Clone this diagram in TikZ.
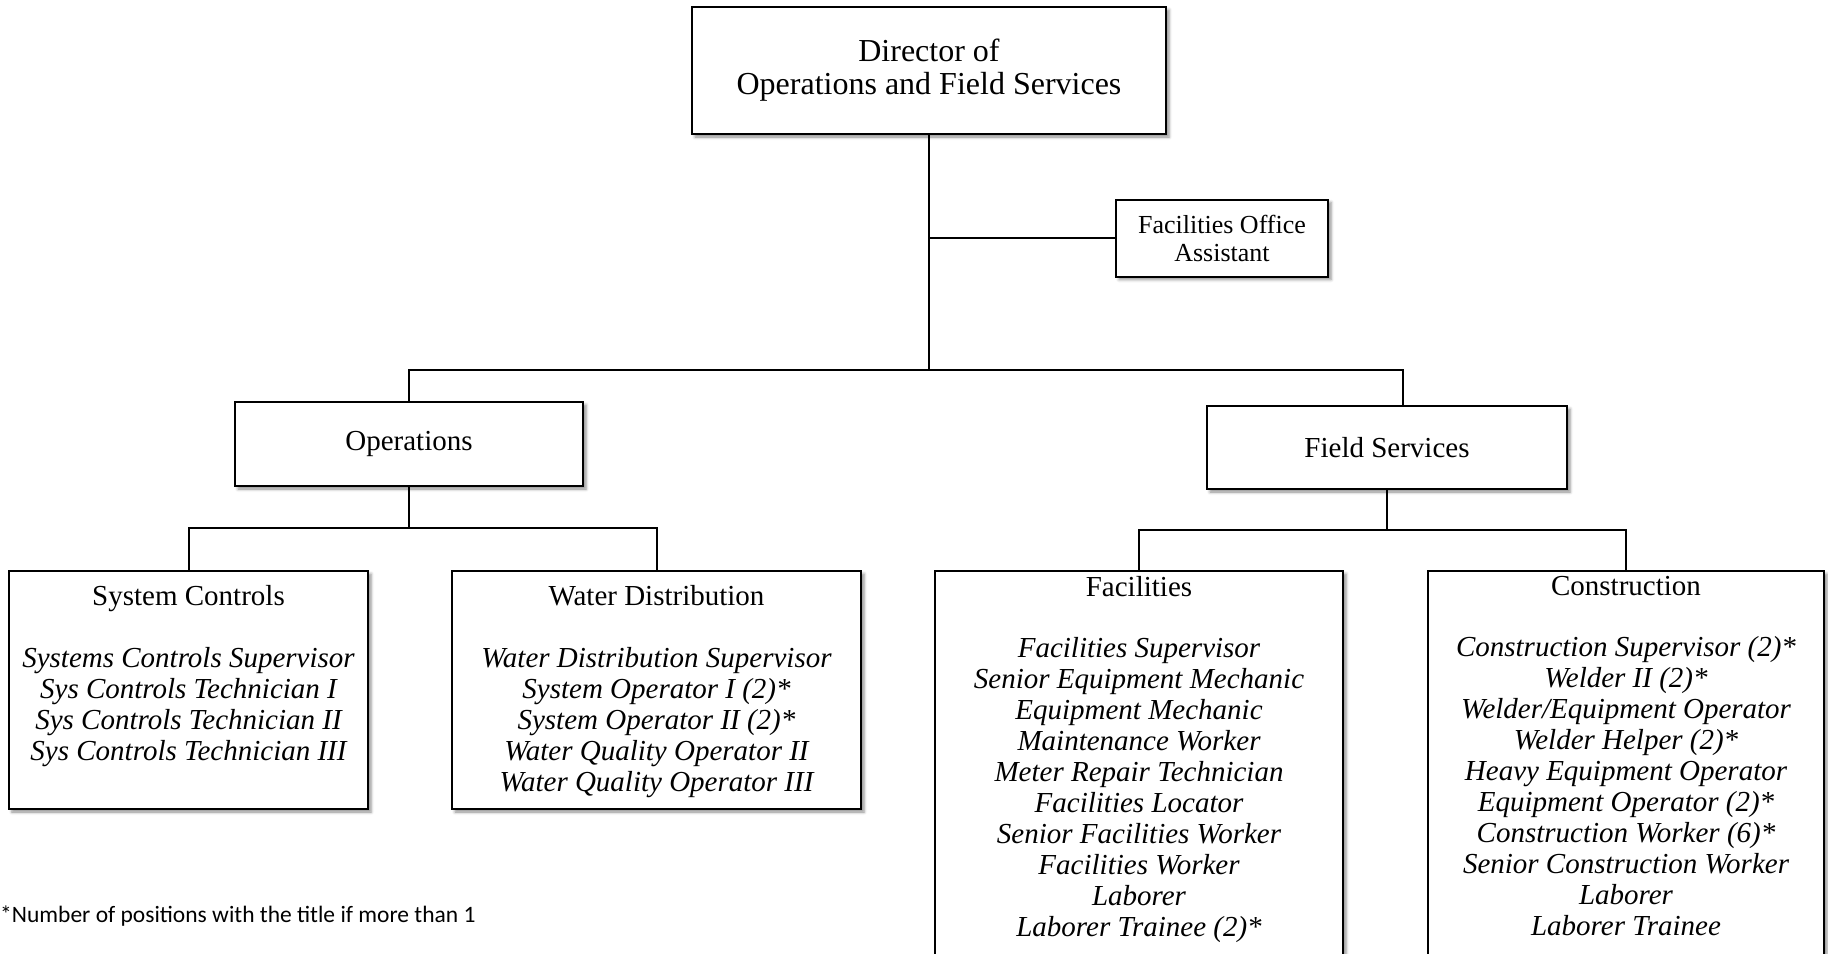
\documentclass[tikz,border=0pt]{standalone}
\usepackage{fontspec}
\setmainfont{Liberation Serif}
\newfontfamily\notefont{Carlito}
\usetikzlibrary{positioning,shadows.blur}

\tikzset{
  box/.style={rectangle, draw, line width=2pt, fill=white,
    blur shadow={shadow xshift=3pt, shadow yshift=-3pt, shadow blur radius=3pt, shadow opacity=45}},
  unithead/.style={inner sep=0pt, font=\fontsize{29}{31}\selectfont},
  stafflist/.style={inner sep=0pt, align=center, font=\fontsize{29}{31}\selectfont\itshape},
  link/.style={line width=2pt},
}

\begin{document}
\begin{tikzpicture}[x=1pt, y=-1pt]
\useasboundingbox (0,0) rectangle (1828,953);

% top of the chart
\node[box, minimum width=474pt, minimum height=127pt, align=center,
      font=\fontsize{32}{33}\selectfont] (dir) at (929,70.5)
      {Director of\\Operations and Field Services};
\node[box, minimum width=212pt, minimum height=77pt, align=center,
      font=\fontsize{26}{28}\selectfont] (office) at (1222,238)
      {Facilities Office\\Assistant};

% divisions
\node[box, minimum width=348pt, minimum height=84pt,
      font=\fontsize{29}{31}\selectfont] (ops) at (409,444) {Operations};
\node[box, minimum width=360pt, minimum height=83pt,
      font=\fontsize{29}{31}\selectfont] (fs) at (1387,447.5) {Field Services};

% units
\node[box, minimum width=359pt, minimum height=238pt] (sc) at (188.5,690) {};
\node[box, minimum width=409pt, minimum height=238pt] (wd) at (656.5,690) {};
\node[box, minimum width=408pt, minimum height=410pt] (fac) at (1139,776) {};
\node[box, minimum width=396pt, minimum height=410pt] (con) at (1626,776) {};

\node[unithead, below=15pt of sc.north] (sc-h) {System Controls};
\node[stafflist, below=42pt of sc-h.base] (sc-l)
  {Systems Controls Supervisor\\Sys Controls Technician I\\
   Sys Controls Technician II\\Sys Controls Technician III};

\node[unithead, below=15pt of wd.north] (wd-h) {Water Distribution};
\node[stafflist, below=42pt of wd-h.base] (wd-l)
  {Water Distribution Supervisor\\System Operator I (2)*\\
   System Operator II (2)*\\Water Quality Operator II\\
   Water Quality Operator III};

\node[unithead, below=6pt of fac.north] (fac-h) {Facilities};
\node[stafflist, below=41pt of fac-h.base] (fac-l)
  {Facilities Supervisor\\Senior Equipment Mechanic\\Equipment Mechanic\\
   Maintenance Worker\\Meter Repair Technician\\Facilities Locator\\
   Senior Facilities Worker\\Facilities Worker\\Laborer\\
   Laborer Trainee (2)*};

\node[unithead, below=6pt of con.north] (con-h) {Construction};
\node[stafflist, below=41pt of con-h.base] (con-l)
  {Construction Supervisor (2)*\\Welder II (2)*\\Welder/Equipment Operator\\
   Welder Helper (2)*\\Heavy Equipment Operator\\Equipment Operator (2)*\\
   Construction Worker (6)*\\Senior Construction Worker\\Laborer\\
   Laborer Trainee};

% connectors
\coordinate (hub) at (929,370);
\coordinate (fsin) at (1403,370);
\coordinate (opsbus) at (409,528);
\coordinate (fsbus) at (1387,530);
\draw[link] (dir.south) -- (hub);
\draw[link] (office.west) -- (office.west -| hub);
\draw[link] (ops.north) |- (fsin) -- (fsin |- fs.north);
\draw[link] (ops.south) -- (opsbus);
\draw[link] (sc.north) |- (opsbus) -| (wd.north);
\draw[link] (fs.south) -- (fsbus);
\draw[link] (fac.north) |- (fsbus) -| (con.north);

\node[anchor=base west, inner sep=0pt, font=\notefont\fontsize{23.5}{26}\selectfont]
  (note) at (0,922) {*Number of positions with the title if more than 1};
\end{tikzpicture}
\end{document}
